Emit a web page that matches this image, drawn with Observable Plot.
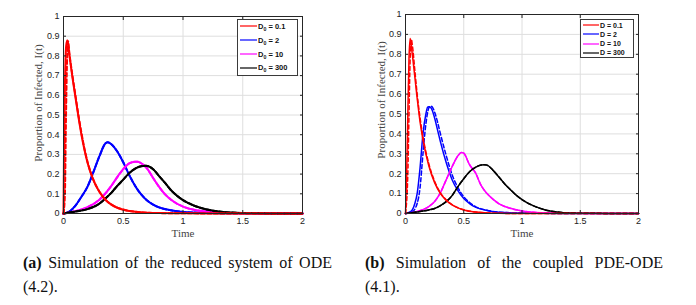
<!DOCTYPE html>
<html>
<head>
<meta charset="utf-8">
<script src="https://cdn.jsdelivr.net/npm/d3@7"></script>
<script src="https://cdn.jsdelivr.net/npm/@observablehq/plot@0.6"></script>
<style>
  html, body { margin: 0; padding: 0; background: #fff; }
  #root { position: relative; width: 696px; height: 305px; overflow: hidden; background: #fff; }
  .panel { position: absolute; top: 0; }
  .legend { position: absolute; border: 1px solid #3a3a3a; background: #fff; box-sizing: border-box;
            font-family: "Liberation Sans", Arial, sans-serif; font-weight: bold; color: #111; }
  .legend .row { position: absolute; left: 0; display: flex; align-items: center; white-space: nowrap; }
  .legend sub { font-size: 70%; vertical-align: -2px; line-height: 0; }
  .cap { position: absolute; font-family: "Liberation Serif", "Times New Roman", serif; font-size: 16px; line-height: 20px; color: #111; white-space: nowrap; }
  .cap.j { text-align: justify; text-align-last: justify; white-space: normal; }
</style>
</head>
<body>
<div id="root"></div>
<script>
// ---------- axis ticks ----------
const xTicks = [0, 0.5, 1, 1.5, 2];
const xTickLabels = ["0", "0.5", "1", "1.5", "2"];
const yTicks = [0, 0.1, 0.2, 0.3, 0.4, 0.5, 0.6, 0.7, 0.8, 0.9, 1];
const yTickLabels = ["0", "0.1", "0.2", "0.3", "0.4", "0.5", "0.6", "0.7", "0.8", "0.9", "1"];

// ---------- panel (a): reduced ODE system ----------
const aRedT  = [0, 0.004, 0.012, 0.022, 0.032, 0.05, 0.075, 0.1, 0.125, 0.15, 0.175, 0.2, 0.25, 0.3, 0.35, 0.4, 0.45, 0.5, 0.6, 0.7, 0.8, 1, 1.5, 2];
const aRedI  = [0, 0.3, 0.65, 0.85, 0.88, 0.80, 0.69, 0.59, 0.49, 0.40, 0.325, 0.26, 0.17, 0.11, 0.07, 0.045, 0.029, 0.019, 0.009, 0.004, 0.002, 0.001, 0, 0];
const aRedDT = [0, 0.012, 0.02, 0.03, 0.038, 0.05, 0.075, 0.1, 0.125, 0.15, 0.175, 0.2, 0.25, 0.3, 0.35, 0.4, 0.45, 0.5, 0.6, 0.7, 0.8, 1, 1.5, 2];
const aRedDI = [0, 0.1, 0.45, 0.78, 0.875, 0.81, 0.70, 0.60, 0.50, 0.41, 0.33, 0.265, 0.172, 0.112, 0.071, 0.046, 0.03, 0.02, 0.009, 0.004, 0.002, 0.001, 0, 0];
const aBlueT = [0, 0.05, 0.1, 0.15, 0.2, 0.25, 0.3, 0.35, 0.37, 0.4, 0.45, 0.5, 0.55, 0.6, 0.65, 0.7, 0.75, 0.8, 0.9, 1.0, 1.2, 1.5, 2];
const aBlueI = [0, 0.01, 0.04, 0.085, 0.135, 0.21, 0.29, 0.355, 0.362, 0.352, 0.315, 0.26, 0.195, 0.14, 0.097, 0.066, 0.045, 0.031, 0.016, 0.008, 0.003, 0.001, 0];
const aMagT  = [0, 0.1, 0.2, 0.3, 0.4, 0.45, 0.5, 0.55, 0.6, 0.62, 0.65, 0.7, 0.75, 0.8, 0.85, 0.9, 1.0, 1.1, 1.2, 1.3, 1.5, 2];
const aMagI  = [0, 0.012, 0.032, 0.07, 0.14, 0.185, 0.225, 0.254, 0.263, 0.263, 0.255, 0.228, 0.18, 0.135, 0.097, 0.07, 0.035, 0.018, 0.01, 0.005, 0.001, 0];
const aBlkT  = [0, 0.1, 0.2, 0.3, 0.35, 0.4, 0.45, 0.5, 0.55, 0.6, 0.65, 0.69, 0.75, 0.8, 0.85, 0.9, 0.95, 1.0, 1.1, 1.2, 1.3, 1.4, 1.6, 2];
const aBlkI  = [0, 0.01, 0.022, 0.05, 0.076, 0.105, 0.14, 0.172, 0.205, 0.228, 0.24, 0.242, 0.225, 0.19, 0.155, 0.118, 0.09, 0.068, 0.038, 0.02, 0.01, 0.005, 0.001, 0];

// ---------- panel (b): coupled PDE-ODE ----------
const bRedT  = [0, 0.01, 0.02, 0.03, 0.04, 0.05, 0.07, 0.1, 0.125, 0.15, 0.2, 0.25, 0.3, 0.35, 0.4, 0.45, 0.5, 0.6, 0.7, 0.8, 1, 2];
const bRedI  = [0, 0.2, 0.5, 0.78, 0.88, 0.84, 0.74, 0.58, 0.46, 0.37, 0.24, 0.155, 0.1, 0.066, 0.043, 0.028, 0.018, 0.007, 0.003, 0.001, 0, 0];
const bRedDT = [0, 0.02, 0.03, 0.04, 0.05, 0.06, 0.08, 0.1, 0.125, 0.15, 0.2, 0.25, 0.3, 0.35, 0.4, 0.45, 0.5, 0.6, 0.7, 0.8, 1, 2];
const bRedDI = [0, 0.2, 0.5, 0.78, 0.875, 0.84, 0.72, 0.6, 0.48, 0.385, 0.25, 0.162, 0.104, 0.068, 0.044, 0.029, 0.019, 0.007, 0.003, 0.001, 0, 0];
const bBlueT = [0, 0.05, 0.08, 0.1, 0.125, 0.15, 0.175, 0.19, 0.2, 0.22, 0.25, 0.275, 0.3, 0.35, 0.4, 0.45, 0.5, 0.55, 0.6, 0.7, 0.8, 1.0, 1.5, 2];
const bBlueI = [0, 0.012, 0.05, 0.1, 0.23, 0.4, 0.5, 0.535, 0.537, 0.53, 0.48, 0.42, 0.36, 0.255, 0.17, 0.115, 0.075, 0.05, 0.032, 0.015, 0.006, 0.002, 0, 0];
const bBlueDT = [0, 0.06, 0.1, 0.125, 0.15, 0.175, 0.2, 0.215, 0.23, 0.25, 0.275, 0.3, 0.35, 0.4, 0.45, 0.5, 0.55, 0.6, 0.7, 0.8, 1.0, 1.5, 2];
const bBlueDI = [0, 0.01, 0.05, 0.13, 0.3, 0.45, 0.53, 0.54, 0.535, 0.51, 0.46, 0.4, 0.29, 0.195, 0.13, 0.085, 0.055, 0.035, 0.016, 0.007, 0.002, 0, 0];
const bMagT  = [0, 0.1, 0.2, 0.25, 0.3, 0.35, 0.4, 0.45, 0.48, 0.5, 0.55, 0.6, 0.65, 0.7, 0.75, 0.8, 0.9, 1.0, 1.1, 1.2, 1.4, 2];
const bMagI  = [0, 0.01, 0.035, 0.06, 0.105, 0.17, 0.235, 0.29, 0.307, 0.303, 0.245, 0.205, 0.14, 0.1, 0.072, 0.05, 0.026, 0.013, 0.006, 0.003, 0.001, 0];
const bBlkT  = [0, 0.1, 0.2, 0.25, 0.3, 0.35, 0.4, 0.45, 0.5, 0.55, 0.6, 0.65, 0.68, 0.7, 0.75, 0.8, 0.85, 0.9, 0.95, 1.0, 1.1, 1.2, 1.3, 1.4, 1.6, 2];
const bBlkI  = [0, 0.008, 0.018, 0.025, 0.04, 0.06, 0.09, 0.135, 0.175, 0.21, 0.232, 0.244, 0.245, 0.243, 0.218, 0.185, 0.15, 0.12, 0.092, 0.07, 0.038, 0.018, 0.008, 0.003, 0.001, 0];

// ---------- legends ----------
const aLegend = ["0.1", "2", "10", "300"];
const bLegend = ["0.1", "2", "10", "300"];
const colors = ["#ff0000", "#0000ff", "#ff00ff", "#000000"];

const rows = (t, v) => t.map((x, i) => ({t: x, v: v[i]}));

const panelA = [
  {t: aRedT, v: aRedI, c: 0, dash: false}, {t: aRedDT, v: aRedDI, c: 0, dash: true},
  {t: aBlueT, v: aBlueI, c: 1, dash: false}, {t: aBlueT, v: aBlueI, c: 1, dash: true},
  {t: aMagT, v: aMagI, c: 2, dash: false}, {t: aMagT, v: aMagI, c: 2, dash: true},
  {t: aBlkT, v: aBlkI, c: 3, dash: false}, {t: aBlkT, v: aBlkI, c: 3, dash: true}
];
const panelB = [
  {t: bRedT, v: bRedI, c: 0, dash: false}, {t: bRedDT, v: bRedDI, c: 0, dash: true},
  {t: bBlueT, v: bBlueI, c: 1, dash: false}, {t: bBlueDT, v: bBlueDI, c: 1, dash: true},
  {t: bMagT, v: bMagI, c: 2, dash: false}, {t: bMagT, v: bMagI, c: 2, dash: true},
  {t: bBlkT, v: bBlkI, c: 3, dash: false}, {t: bBlkT, v: bBlkI, c: 3, dash: true}
];

function makePlot(series, m, sw) {
  const tickFont = {fontFamily: "Liberation Sans, Arial, sans-serif", fontSize: 9, fill: "#222"};
  const serif = "Liberation Serif, Times New Roman, serif";
  const marks = [
    Plot.gridX(xTicks, {stroke: "#dedede", strokeOpacity: 1, strokeWidth: 1}),
    Plot.gridY(yTicks, {stroke: "#dedede", strokeOpacity: 1, strokeWidth: 1}),
  ];
  const order = [2, 3, 4, 5, 6, 7, 0, 1];
  for (const i of order) {
    const s = series[i];
    marks.push(Plot.line(rows(s.t, s.v), {
      x: "t", y: "v", stroke: colors[s.c], strokeWidth: sw,
      strokeDasharray: s.dash ? "4,2.5" : null, curve: "monotone-x"
    }));
  }
  marks.push(
    Plot.axisX(xTicks, {anchor: "bottom", tickSize: -3, tickFormat: () => "", stroke: "#222", label: null}),
    Plot.axisX(xTicks, {anchor: "top", tickSize: -3, tickFormat: () => "", stroke: "#222", label: null}),
    Plot.axisY(yTicks, {anchor: "left", tickSize: -3, tickFormat: () => "", stroke: "#222", label: null}),
    Plot.axisY(yTicks, {anchor: "right", tickSize: -3, tickFormat: () => "", stroke: "#222", label: null}),
    Plot.axisX(xTicks, {anchor: "bottom", tickSize: 0, tickPadding: 4, tickFormat: (d, i) => xTickLabels[i], label: null, ...tickFont}),
    Plot.axisY(yTicks, {anchor: "left", tickSize: 0, tickPadding: 4, tickFormat: (d, i) => yTickLabels[i], label: null, ...tickFont}),
    Plot.frame({stroke: "#262626", strokeWidth: 1}),
    Plot.text(["Time"], {frameAnchor: "bottom", lineAnchor: "middle", textAnchor: "middle", dy: 20, fontFamily: serif, fontSize: 11, fill: "#444"}),
    Plot.text(["Proportion of Infected, I(t)"], {frameAnchor: "left", lineAnchor: "middle", textAnchor: "middle", dx: m.yLabelDx, dy: m.yLabelDy, rotate: -90, fontFamily: serif, fontSize: 11, fill: "#444"})
  );
  return Plot.plot({
    width: 348, height: 240,
    marginLeft: m.left, marginRight: m.right, marginTop: m.top, marginBottom: m.bottom,
    x: {domain: [0, 2]},
    y: {domain: [0, 1]},
    style: {background: "transparent", overflow: "visible"},
    marks
  });
}

const root = document.getElementById("root");

function addPanel(plot, left) {
  const d = document.createElement("div");
  d.className = "panel";
  d.style.left = left + "px";
  d.appendChild(plot);
  root.appendChild(d);
}

addPanel(makePlot(panelA, {left: 63, right: 46, top: 16, bottom: 27, yLabelDx: -25, yLabelDy: -12}, 2), 0);
addPanel(makePlot(panelB, {left: 57, right: 58, top: 14, bottom: 27, yLabelDx: -24, yLabelDy: -14}, 1.5), 348);

function addLegend(box, labels, sub, lineW, fontSize, rowYs, sw) {
  const lg = document.createElement("div");
  lg.className = "legend";
  Object.assign(lg.style, {left: box.x + "px", top: box.y + "px", width: box.w + "px", height: box.h + "px", fontSize: fontSize + "px"});
  labels.forEach((lab, i) => {
    const r = document.createElement("div");
    r.className = "row";
    r.style.top = (rowYs[i] - box.y - 6) + "px";
    r.style.height = "12px";
    r.style.left = "1px";
    r.innerHTML = `<svg width="${lineW + 2}" height="12"><line x1="1" x2="${lineW + 1}" y1="6" y2="6" stroke="${colors[i]}" stroke-width="${sw}"/></svg>` +
      `<span>D${sub ? "<sub>0</sub>" : ""} = ${lab}</span>`;
    lg.appendChild(r);
  });
  root.appendChild(lg);
}

addLegend({x: 237, y: 19, w: 61, h: 57}, aLegend, true, 17, 7.5, [25, 39.3, 53.3, 66.7], 1.2);
addLegend({x: 580, y: 19, w: 54, h: 39}, bLegend, false, 16, 7, [24, 33.3, 42.6, 51.8], 1.2);

// ---------- captions ----------
const captions = [
  {x: 23, w: 309, l1: "<b>(a)</b> Simulation of the reduced system of ODE", l2: "(4.2)."},
  {x: 365, w: 298, l1: "<b>(b)</b> Simulation of the coupled PDE-ODE", l2: "(4.1)."}
];
captions.forEach(c => {
  const a = document.createElement("div");
  a.className = "cap j";
  Object.assign(a.style, {left: c.x + "px", top: "253px", width: c.w + "px"});
  a.innerHTML = c.l1;
  root.appendChild(a);
  const b = document.createElement("div");
  b.className = "cap";
  Object.assign(b.style, {left: c.x + "px", top: "277px"});
  b.innerHTML = c.l2;
  root.appendChild(b);
});
</script>
</body>
</html>
